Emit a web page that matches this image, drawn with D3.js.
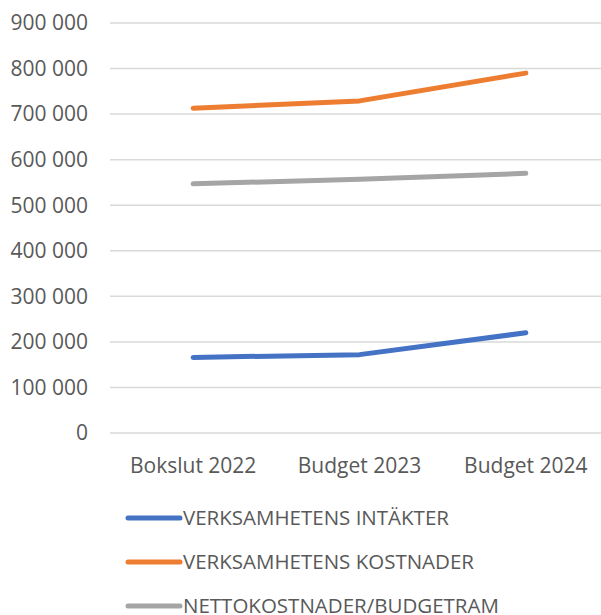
<!DOCTYPE html>
<html>
<head>
<meta charset="utf-8">
<script src="https://cdn.jsdelivr.net/npm/d3@7"></script>
<style>
  body { margin: 0; background: #fff; }
  text { font-family: "Open Sans", "Noto Sans", sans-serif; fill: #595959; }
</style>
</head>
<body>
<script>
const width = 601;
const height = 615;
const margin = {top: 23, right: -8, bottom: 182, left: 110};

const categories = ["Bokslut 2022", "Budget 2023", "Budget 2024"];
const seriesNames = ["VERKSAMHETENS INTÄKTER", "VERKSAMHETENS KOSTNADER", "NETTOKOSTNADER/BUDGETRAM"];
const intakter = [166000, 172000, 220000];
const kostnader = [713000, 729000, 790000];
const netto = [547000, 557000, 570000];
const yTicks = [0, 100000, 200000, 300000, 400000, 500000, 600000, 700000, 800000, 900000];
const colors = ["#4472C4", "#ED7D31", "#A5A5A5"];

const series = [intakter, kostnader, netto].map((values, i) => ({
    name: seriesNames[i],
    color: colors[i],
    values: values
}));

const svg = d3.select("body").append("svg")
    .attr("width", width)
    .attr("height", height);

const x = d3.scaleBand().domain(categories).range([margin.left, width - margin.right]);
const y = d3.scaleLinear().domain([0, 900000]).range([height - margin.bottom, margin.top]);

const fmt = d => d3.format(",")(d).replace(/,/g, " ");

// gridlines
svg.append("g")
    .selectAll("line")
    .data(yTicks)
    .join("line")
    .attr("x1", margin.left)
    .attr("x2", width)
    .attr("y1", d => y(d))
    .attr("y2", d => y(d))
    .style("stroke", "#D9D9D9")
    .style("stroke-width", 1.5);

// y labels
svg.append("g")
    .selectAll("text")
    .data(yTicks)
    .join("text")
    .attr("x", 88)
    .attr("y", d => y(d))
    .attr("dy", "0.35em")
    .attr("text-anchor", "end")
    .style("font-size", "21px")
    .text(d => fmt(d));

// x labels
svg.append("g")
    .selectAll("text")
    .data(categories)
    .join("text")
    .attr("x", d => x(d) + x.bandwidth() / 2)
    .attr("y", 466)
    .attr("dy", "0.35em")
    .attr("text-anchor", "middle")
    .style("font-size", "21px")
    .text(d => d);

const line = d3.line()
    .x((d, i) => x(categories[i]) + x.bandwidth() / 2)
    .y(d => y(d));

svg.append("g")
    .selectAll("path")
    .data(series)
    .join("path")
    .attr("d", d => line(d.values))
    .attr("fill", "none")
    .attr("stroke", d => d.color)
    .attr("stroke-width", 5)
    .attr("stroke-linecap", "round")
    .attr("stroke-linejoin", "round");

// legend
const legend = svg.append("g")
    .selectAll("g")
    .data(series)
    .join("g")
    .attr("transform", (d, i) => `translate(0, ${518 + i * 44})`);

legend.append("line")
    .attr("x1", 128)
    .attr("x2", 180)
    .attr("stroke", d => d.color)
    .attr("stroke-width", 5)
    .attr("stroke-linecap", "round");

legend.append("text")
    .attr("x", 183)
    .attr("dy", "0.35em")
    .style("font-size", "20.5px")
    .text(d => d.name);
</script>
</body>
</html>
